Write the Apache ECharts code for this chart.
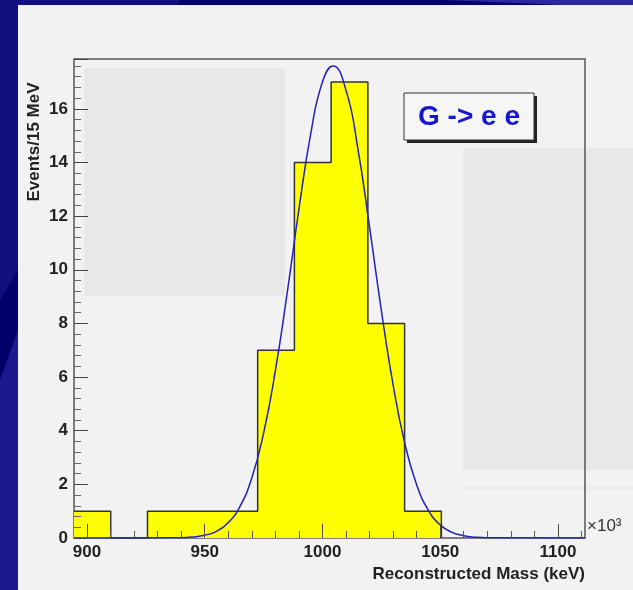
<!DOCTYPE html>
<html><head><meta charset="utf-8">
<script src="https://cdn.jsdelivr.net/npm/echarts@6/dist/echarts.min.js"></script>
<style>html,body{margin:0;padding:0;background:#00006a;}#c{width:633px;height:590px;}</style>
</head><body><div id="c"></div>
<script>
const binEdges = [894.5, 910.1, 925.7, 941.3, 956.9, 972.5, 988.1, 1003.7, 1019.3, 1034.9, 1050.5];
const binCounts = [1, 0, 1, 1, 1, 7, 14, 17, 8, 1];
const fitX = [894.5, 940, 945, 950, 955, 960, 965, 970, 975, 980, 985, 990, 995, 1000, 1004.5, 1010, 1015, 1020, 1025, 1030, 1035, 1040, 1045, 1050, 1055, 1060, 1065, 1070, 1111.5];
const fitY = [0, 0.013, 0.038, 0.10, 0.25, 0.57, 1.18, 2.24, 3.90, 6.23, 9.12, 12.24, 15.06, 17.0, 17.6, 16.7, 14.55, 11.6, 8.5, 5.72, 3.52, 1.99, 1.03, 0.49, 0.21, 0.085, 0.031, 0.01, 0];
const xTicks = [900, 950, 1000, 1050, 1100];
const xMinorTicks = [900, 910, 920, 930, 940, 950, 960, 970, 980, 990, 1000, 1010, 1020, 1030, 1040, 1050, 1060, 1070, 1080, 1090, 1100, 1110];
const yTicks = [0, 2, 4, 6, 8, 10, 12, 14, 16];

const histData = binCounts.map((c, i) => [binEdges[i], c]);
histData.push([binEdges[binEdges.length - 1], 0]);
const fitData = fitX.map((x, i) => [x, fitY[i]]);

const font = "'Liberation Sans Narrow','Liberation Sans',sans-serif";
const chart = echarts.init(document.getElementById('c'));
chart.setOption({
  backgroundColor: '#00006a',
  animation: false,
  graphic: [
    {type:'polygon', z:-10, shape:{points:[[0,0],[180,0],[0,300]]}, style:{fill:'#101080'}},
    {type:'polygon', z:-10, shape:{points:[[0,380],[18,330],[18,590],[0,590]]}, style:{fill:'#1a1a8c'}},
    {type:'polygon', z:-10, shape:{points:[[444,0],[633,0],[633,8]]}, style:{fill:'#2a2aa0'}},
    {type:'rect', z:-9, shape:{x:18, y:5, width:615, height:585}, style:{fill:'#f2f2f2'}},
    {type:'rect', z:-8, shape:{x:84, y:68, width:201, height:228}, style:{fill:'#e8e8e8'}},
    {type:'rect', z:-8, shape:{x:463, y:148, width:170, height:322}, style:{fill:'#e8e8e8'}},
    {type:'line', z:-8, shape:{x1:463, y1:488, x2:633, y2:488}, style:{stroke:'#e2e2e2', lineWidth:1}},
    {type:'rect', z:10, shape:{x:407, y:96, width:130, height:47}, style:{fill:'#222'}},
    {type:'rect', z:11, shape:{x:404, y:93, width:130, height:47}, style:{fill:'#f6f6f6', stroke:'#333', lineWidth:1}},
    {type:'text', z:12, x:469, y:117, style:{text:'G -> e e', fill:'#1616d0', font:"bold 28px "+font, align:'center', verticalAlign:'middle'}},
    {type:'text', z:12, x:34, y:142, rotation:Math.PI/2, style:{text:'Events/15 MeV', fill:'#222', font:"bold 17px "+font, align:'center', verticalAlign:'middle'}},
    {type:'text', z:12, x:585, y:566, style:{text:'Reconstructed Mass (keV)', fill:'#222', font:"bold 17px "+font, align:'right'}},
    {type:'text', z:12, x:587, y:518, style:{text:'×10³', fill:'#333', font:"17px "+font}}
  ],
  grid: {left:74, top:59, right:48, bottom:52, show:true, borderColor:'#555', borderWidth:1.5, backgroundColor:'transparent'},
  xAxis: [{
    type:'value', min:894.5, max:1111.5, z:5,
    axisLine:{show:false},
    splitLine:{show:false},
    axisTick:{show:true, inside:true, length:14, customValues:xTicks, lineStyle:{color:'#444'}},
    axisLabel:{customValues:xTicks, color:'#222', fontFamily:font, fontWeight:'bold', fontSize:17, margin:6, formatter: v => String(v)}
  },{
    type:'value', min:894.5, max:1111.5, z:5, position:'bottom',
    axisLine:{show:false},
    splitLine:{show:false},
    axisTick:{show:true, inside:true, length:7, customValues:xMinorTicks, lineStyle:{color:'#555'}},
    axisLabel:{show:false}
  }],
  yAxis: {
    type:'value', min:0, max:17.86, interval:2, z:5,
    axisLine:{show:false},
    splitLine:{show:false},
    axisTick:{show:true, inside:true, length:14, lineStyle:{color:'#444'}},
    minorTick:{show:true, splitNumber:5, length:7, lineStyle:{color:'#666'}},
    axisLabel:{color:'#222', fontFamily:font, fontWeight:'bold', fontSize:17, margin:6,
      formatter: v => (yTicks.indexOf(v) >= 0 ? String(v) : '')}
  },
  series: [
    {type:'line', step:'end', data:histData, symbol:'none',
     lineStyle:{color:'#333', width:1.5}, areaStyle:{color:'#ffff00', opacity:1}, z:2},
    {type:'line', data:fitData, smooth:true, symbol:'none',
     lineStyle:{color:'#2222bb', width:1.5}, z:3}
  ]
});
</script></body></html>
